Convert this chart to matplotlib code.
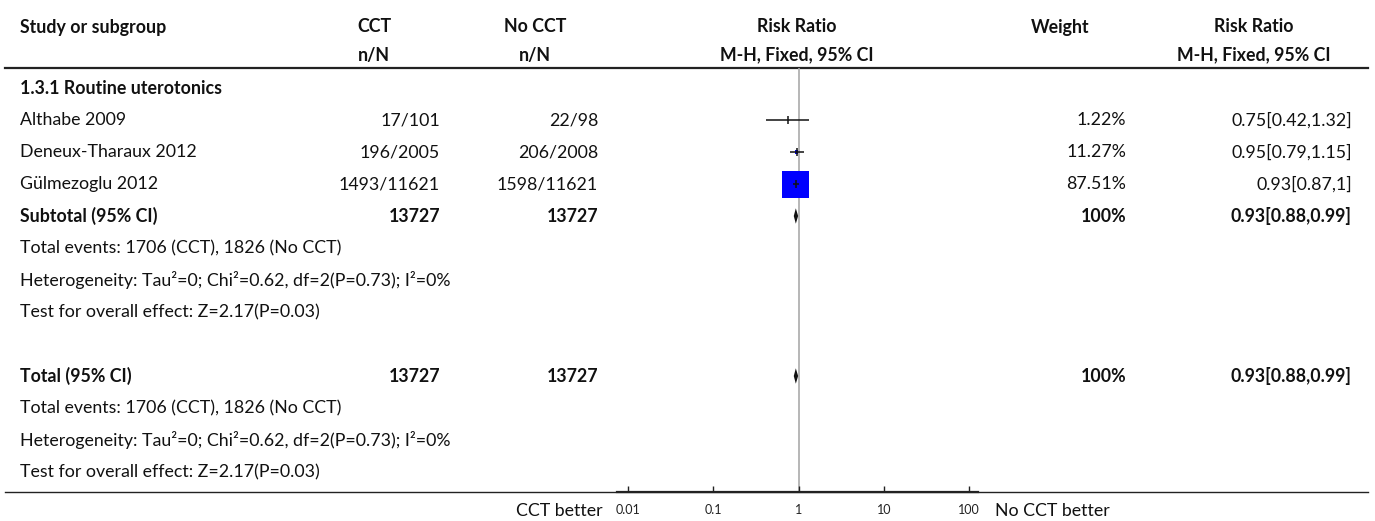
import matplotlib

matplotlib.use("Agg")

import matplotlib.pyplot as plt
import numpy as np

FONT = ["Lato", "DejaVu Sans"]
plt.rcParams["font.family"] = FONT

TEXT_COLOR = "#111111"
SQUARE_COLOR = "#0000ff"
REF_LINE_COLOR = "#aaaaaa"

W, H = 1375, 521
ROW0_PX = 88
ROW_STEP = 32

studies = ["Althabe 2009", "Deneux-Tharaux 2012", "Gülmezoglu 2012"]
cct_events = ["17/101", "196/2005", "1493/11621"]
nocct_events = ["22/98", "206/2008", "1598/11621"]
rr = [0.75, 0.95, 0.93]
rr_lo = [0.42, 0.79, 0.87]
rr_hi = [1.32, 1.15, 1.0]
rr_text = ["0.75[0.42,1.32]", "0.95[0.79,1.15]", "0.93[0.87,1]"]
weights = [1.22, 11.27, 87.51]

pooled = [0.93, 0.88, 0.99]
pooled_text = "0.93[0.88,0.99]"
total_n = ["13727", "13727"]
notes = [
    "Total events: 1706 (CCT), 1826 (No CCT)",
    "Heterogeneity: Tau²=0; Chi²=0.62, df=2(P=0.73); I²=0%",
    "Test for overall effect: Z=2.17(P=0.03)",
]
ticks = [0.01, 0.1, 1, 10, 100]
tick_labels = ["0.01", "0.1", "1", "10", "100"]

# column anchors (px)
X_LEFT = 20
X_CCT_R, X_CCT_C = 440, 374
X_NO_R, X_NO_C = 598, 535
X_RR_C = 797
X_W_R, X_W_C = 1126, 1060
X_RR2_R, X_RR2_C = 1352, 1254


def px_row(y_px):
    return (y_px - ROW0_PX) / ROW_STEP


def main():
    fig = plt.figure(figsize=(W / 100, H / 100), dpi=100)
    fig.patch.set_facecolor("white")

    # table layer in pixel x, row units y
    tab = fig.add_axes([0, 0, 1, 1])
    tab.set_xlim(0, W)
    tab.set_ylim(px_row(H), px_row(0))
    tab.axis("off")

    # forest layer: log axis from x=617 to 978 px, y from header line to bottom line
    x0, x1 = 617, 978
    y_top, y_bot = 68, 492
    ax = fig.add_axes([x0 / W, 1 - y_bot / H, (x1 - x0) / W, (y_bot - y_top) / H])
    ax.set_xscale("log")
    dec = 85.0
    ax.set_xlim(10 ** (-2 - 11 / dec), 10 ** (2 + 9 / dec))
    ax.set_ylim(px_row(y_bot), px_row(y_top))
    ax.patch.set_alpha(0)
    for side in ("top", "right", "left"):
        ax.spines[side].set_visible(False)
    ax.spines["bottom"].set_linewidth(1.6)
    ax.spines["bottom"].set_color("#222222")
    ax.set_yticks([])
    ax.set_xticks(ticks)
    ax.set_xticklabels(tick_labels)
    ax.minorticks_off()
    ax.tick_params(axis="x", direction="in", length=4, width=1, pad=9,
                   labelsize=9, colors="#222222")

    fs = 12.8
    bold = dict(fontsize=fs, fontweight="bold", color=TEXT_COLOR, va="center")
    normal = dict(fontsize=fs, color=TEXT_COLOR, va="center")

    # header
    h1, h2 = px_row(27), px_row(55)
    tab.text(X_LEFT, h1, "Study or subgroup", ha="left", **bold)
    tab.text(X_CCT_C, h1, "CCT", ha="center", **bold)
    tab.text(X_CCT_C, h2, "n/N", ha="center", **bold)
    tab.text(X_NO_C, h1, "No CCT", ha="center", **bold)
    tab.text(X_NO_C, h2, "n/N", ha="center", **bold)
    tab.text(X_RR_C, h1, "Risk Ratio", ha="center", **bold)
    tab.text(X_RR_C, h2, "M-H, Fixed, 95% CI", ha="center", **bold)
    tab.text(X_W_C, h1, "Weight", ha="center", **bold)
    tab.text(X_RR2_C, h1, "Risk Ratio", ha="center", **bold)
    tab.text(X_RR2_C, h2, "M-H, Fixed, 95% CI", ha="center", **bold)
    tab.plot([5, 1368], [px_row(68)] * 2, color="#222222", lw=1.6)
    tab.plot([5, 1368], [px_row(492)] * 2, color="#222222", lw=1.0)

    # subgroup title
    tab.text(X_LEFT, 0, "1.3.1 Routine uterotonics", ha="left", **bold)

    # studies
    for i, name in enumerate(studies):
        r = i + 1
        tab.text(X_LEFT, r, name, ha="left", **normal)
        tab.text(X_CCT_R, r, cct_events[i], ha="right", **normal)
        tab.text(X_NO_R, r, nocct_events[i], ha="right", **normal)
        tab.text(X_W_R, r, f"{weights[i]:.2f}%", ha="right", **normal)
        tab.text(X_RR2_R, r, rr_text[i], ha="right", **normal)

    # reference line at 1
    ax.axvline(1, color=REF_LINE_COLOR, lw=1.2, zorder=1)

    rows = np.arange(1, len(studies) + 1)
    ax.hlines(rows, rr_lo, rr_hi, color=TEXT_COLOR, lw=1.1, zorder=3)
    side_pt = np.array(weights) / max(weights) * 27 * 0.72
    ax.scatter(rr, rows, s=side_pt ** 2, marker="s", color=SQUARE_COLOR,
               linewidths=0, zorder=2.5)
    ax.scatter(rr, rows, s=40, marker="|", color=TEXT_COLOR,
               linewidths=1.1, zorder=4)

    def diamond(r, est, lo, hi):
        hh = 0.24
        ax.fill([lo, est, hi, est], [r, r - hh, r, r + hh],
                color=TEXT_COLOR, lw=0, zorder=4)

    # subtotal & total
    for r, label in ((4, "Subtotal (95% CI)"), (9, "Total (95% CI)")):
        tab.text(X_LEFT, r, label, ha="left", **bold)
        tab.text(X_CCT_R, r, total_n[0], ha="right", **bold)
        tab.text(X_NO_R, r, total_n[1], ha="right", **bold)
        tab.text(X_W_R, r, "100%", ha="right", **bold)
        tab.text(X_RR2_R, r, pooled_text, ha="right", **bold)
        diamond(r, *pooled)
        for k, note in enumerate(notes):
            tab.text(X_LEFT, r + 1 + k, note, ha="left", **normal)

    # favours labels
    yl = px_row(511)
    tab.text(603, yl, "CCT better", ha="right", **normal)
    tab.text(995, yl, "No CCT better", ha="left", **normal)

    fig.savefig("out.png", dpi=100, facecolor="white")
    plt.close(fig)


if __name__ == "__main__":
    main()
